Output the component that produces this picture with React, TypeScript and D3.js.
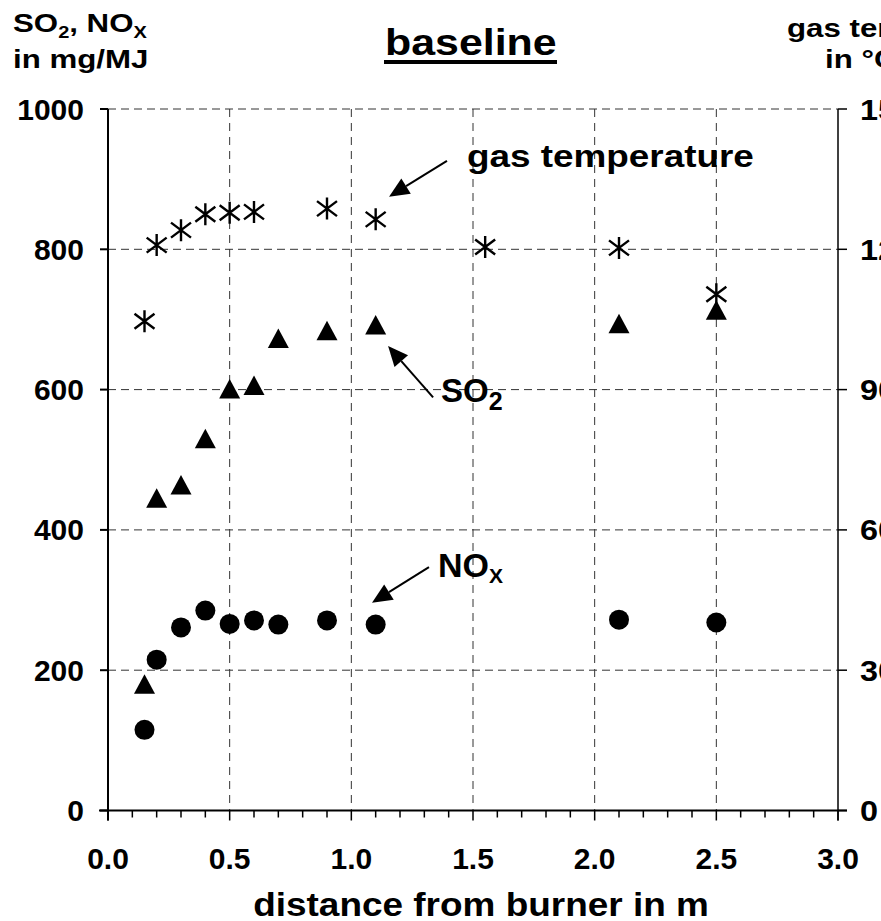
import React from 'react';
import { scaleLinear, range } from 'd3';

// measured points
const distance = [0.15, 0.2, 0.3, 0.4, 0.5, 0.6, 0.7, 0.9, 1.1, 2.1, 2.5]
const so2 = [180, 445, 464, 530, 601, 606, 673, 684, 692, 694, 713]
const nox = [115, 215, 261, 285, 266, 271, 265, 271, 265, 272, 268]
const tempDistance = [0.15, 0.2, 0.3, 0.4, 0.5, 0.6, 0.9, 1.1, 1.55, 2.1, 2.5]
const gasTemp = [1046, 1209, 1241, 1275, 1278, 1280, 1287, 1264, 1205, 1203, 1104]

const xTicks = [0, 0.5, 1.0, 1.5, 2.0, 2.5, 3.0]
const yTicks = [0, 200, 400, 600, 800, 1000]
const yRightTicks = [0, 300, 600, 900, 1200, 1500]

const W = 881
const H = 921
const font = '"Liberation Sans", Arial, Helvetica, sans-serif'

const x = scaleLinear().domain([0, 3]).range([108, 838])
const y = scaleLinear().domain([0, 1000]).range([810.5, 109])
const yR = scaleLinear().domain([0, 1500]).range([810.5, 109])

const triangle = 'M0,-10L10.5,9.5L-10.5,9.5Z'
const asterisk = 'M0,-11V11M-10,-7.5L10,7.5M-10,7.5L10,-7.5'

function Arrow({ from, to }: { from: [number, number], to: [number, number] }) {
  const x1 = x(from[0]), y1 = y(from[1]), x2 = x(to[0]), y2 = y(to[1])
  const a = Math.atan2(y2 - y1, x2 - x1)
  const len = 20, hw = 9
  const bx = x2 - len * Math.cos(a), by = y2 - len * Math.sin(a)
  const px = -Math.sin(a) * hw, py = Math.cos(a) * hw
  return (
    <g>
      <line x1={x1} y1={y1} x2={bx} y2={by} stroke="#000" strokeWidth={2} />
      <path d={`M${x2},${y2}L${bx + px},${by + py}L${bx - px},${by - py}Z`} fill="#000" />
    </g>
  )
}

export default function App() {
  const minor = range(0, 30.5, 1).map(d => d / 10)
  return (
    <svg width={W} height={H} style={{ position: 'absolute', left: 0, top: 0, background: '#fff' }}
      fontFamily={font} fontWeight="bold">
      {/* grid */}
      {yTicks.filter(d => d > 0).map(d => (
        <line key={'gy' + d} x1={x(0)} x2={x(3)} y1={y(d)} y2={y(d)}
          stroke="#333" strokeWidth={1} strokeDasharray="8,5" />
      ))}
      {xTicks.filter(d => d > 0 && d < 3).map(d => (
        <line key={'gx' + d} x1={x(d)} x2={x(d)} y1={y(1000)} y2={y(0)}
          stroke="#333" strokeWidth={1} strokeDasharray="8,6" />
      ))}

      {/* axes */}
      <line x1={x(0)} x2={x(0)} y1={y(1000)} y2={y(0) + 10} stroke="#000" strokeWidth={2} />
      <line x1={x(3)} x2={x(3)} y1={y(1000)} y2={y(0) + 10} stroke="#000" strokeWidth={1.5} />
      <line x1={x(0) - 9} x2={x(3) + 9} y1={y(0)} y2={y(0)} stroke="#000" strokeWidth={2} />
      {yTicks.map(d => (
        <line key={'ly' + d} x1={x(0) - 8} x2={x(0)} y1={y(d)} y2={y(d)} stroke="#000" strokeWidth={2} />
      ))}
      {yRightTicks.map(d => (
        <line key={'ry' + d} x1={x(3)} x2={x(3) + 9} y1={yR(d)} y2={yR(d)} stroke="#000" strokeWidth={1.5} />
      ))}
      {minor.map(d => (
        <line key={'mx' + d} x1={x(d)} x2={x(d)} y1={y(0)}
          y2={y(0) + (Math.round(d * 10) % 5 === 0 ? 10 : 7)} stroke="#000" strokeWidth={1.5} />
      ))}

      {/* tick labels */}
      {yTicks.map(d => (
        <text key={'tl' + d} x={84} y={y(d) + 10.5} fontSize={30} textAnchor="end">{d}</text>
      ))}
      {yRightTicks.map(d => (
        <text key={'tr' + d} transform={`translate(860,${yR(d) + 10.5}) scale(1.08,1)`} fontSize={30}>{d}</text>
      ))}
      {xTicks.map(d => (
        <text key={'tx' + d} x={x(d)} y={869} fontSize={30} textAnchor="middle">{d.toFixed(1)}</text>
      ))}

      {/* axis titles */}
      <text transform="translate(13,32) scale(1.25,1)" fontSize={25}>
        SO<tspan fontSize={16} dy={6}>2</tspan><tspan dy={-6}>, NO</tspan><tspan fontSize={16} dy={6}>X</tspan>
      </text>
      <text transform="translate(13,68) scale(1.25,1)" fontSize={25}>in mg/MJ</text>
      <text transform="translate(787,37) scale(1.25,1)" fontSize={25}>gas temperature</text>
      <text transform="translate(825,68) scale(1.25,1)" fontSize={25}>in °C</text>
      <text transform="translate(481,916) scale(1.12,1)" fontSize={33} textAnchor="middle">distance from burner in m</text>

      {/* title */}
      <text transform="translate(385,55) scale(1.16,1)" fontSize={37}>baseline</text>
      <rect x={384} y={60} width={173} height={4} fill="#000" />

      {/* series */}
      {tempDistance.map((d, i) => (
        <path key={'t' + i} d={asterisk} transform={`translate(${x(d)},${yR(gasTemp[i])})`}
          stroke="#000" strokeWidth={2.4} fill="none" />
      ))}
      {distance.map((d, i) => (
        <path key={'s' + i} d={triangle} transform={`translate(${x(d)},${y(so2[i])})`} fill="#000" />
      ))}
      {distance.map((d, i) => (
        <circle key={'n' + i} cx={x(d)} cy={y(nox[i])} r={10} fill="#000" />
      ))}

      {/* annotations */}
      <Arrow from={[1.393, 926]} to={[1.155, 875]} />
      <text transform={`translate(${x(1.475)},${y(918)}) scale(1.19,1)`} fontSize={31}>gas temperature</text>
      <Arrow from={[1.336, 589]} to={[1.151, 662]} />
      <text x={x(1.369)} y={y(582)} fontSize={33}>
        SO<tspan fontSize={25} dy={8}>2</tspan>
      </text>
      <Arrow from={[1.319, 347]} to={[1.085, 296]} />
      <text x={x(1.356)} y={y(333)} fontSize={34}>
        NO<tspan fontSize={21} dy={6}>X</tspan>
      </text>
    </svg>
  )
}
